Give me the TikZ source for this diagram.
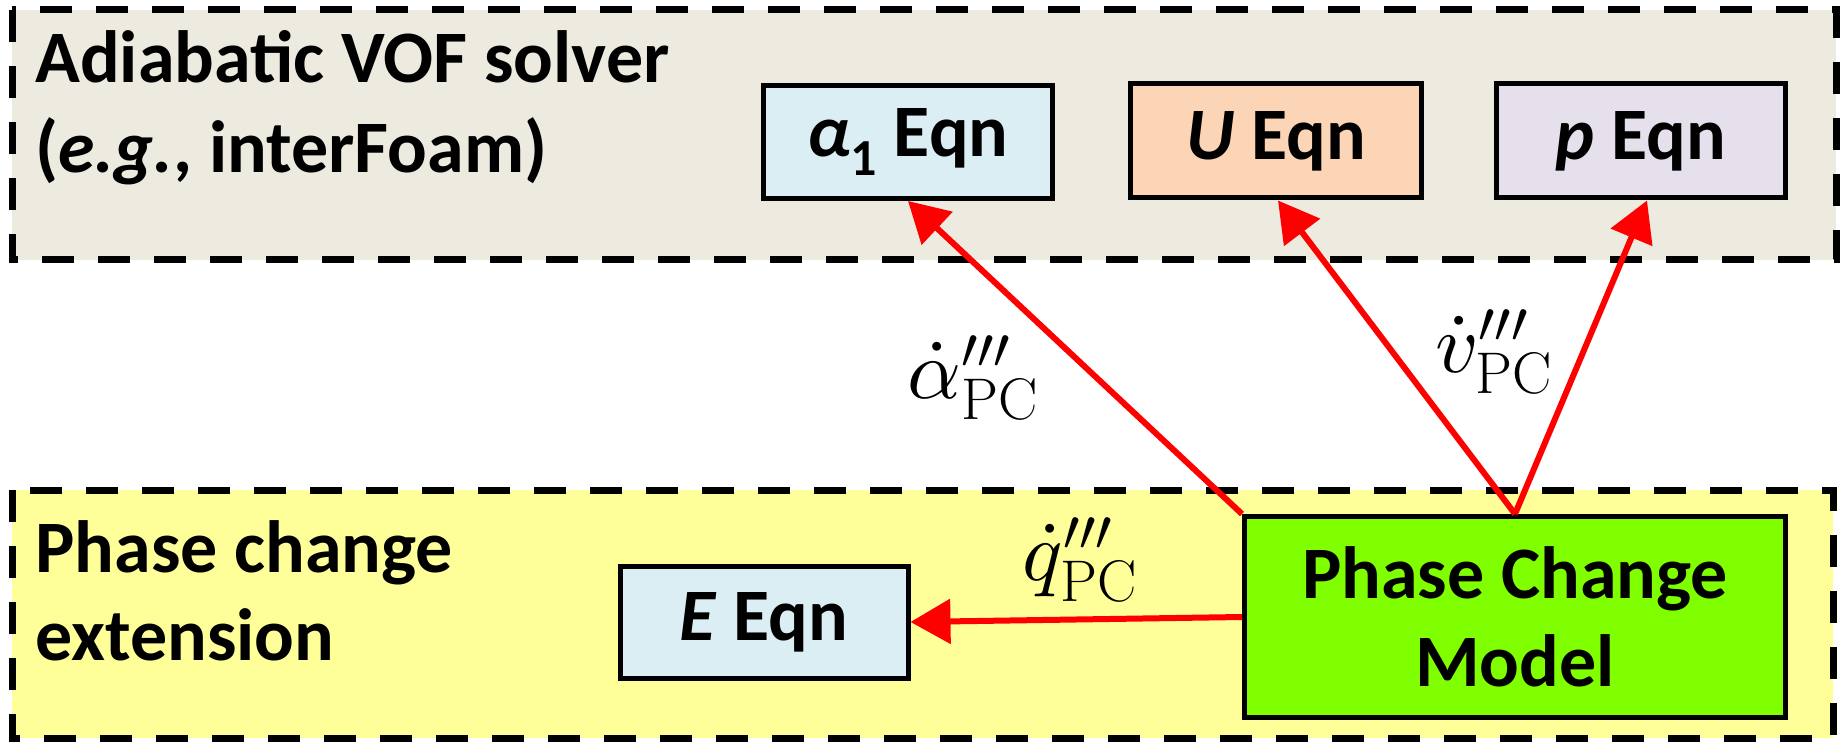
\documentclass[tikz,border=0pt]{standalone}
\usepackage{fontspec}
\newfontfamily\calib{Carlito}
\DeclareFontShape{OML}{cmm}{m}{it}{<->cmmi10}{\skewchar\font'177}
\DeclareFontShape{OMS}{cmsy}{m}{n}{<->cmsy10}{\skewchar\font'60}
\DeclareFontShape{OT1}{cmr}{m}{n}{<->cmr10}{}
\usetikzlibrary{arrows.meta}
\definecolor{topbg}{HTML}{EDEBE0}
\definecolor{botbg}{HTML}{FFFF99}
\definecolor{bluebox}{HTML}{DAEEF3}
\definecolor{orangebox}{HTML}{FBD5B5}
\definecolor{purplebox}{HTML}{E5E0EC}
\definecolor{greenbox}{HTML}{80FF00}
\definecolor{arrowred}{HTML}{FF0000}
\begin{document}
\begin{tikzpicture}[x=0.5pt,y=-0.5pt,
  region/.style={draw=black, line width=3.5pt, dash pattern=on 16pt off 12pt},
  eqn/.style={draw=black, line width=2.5pt, inner sep=0pt, align=center,
    font=\calib\bfseries\fontsize{37}{44}\selectfont},
  heading/.style={anchor=base west, inner sep=0pt,
    font=\calib\bfseries\fontsize{37}{45}\selectfont},
  flow/.style={draw=arrowred, line width=3pt, -{Triangle[length=20pt,width=22pt]}},
  rate/.style={inner sep=0pt, font=\fontsize{42}{50}\selectfont}]
\useasboundingbox (0,0) rectangle (1843,743);
\fill[white] (0,0) rectangle (1843,743);
% regions
\filldraw[region, fill=topbg] (12,10) rectangle (1836,260);
\filldraw[region, fill=botbg] (12,490) rectangle (1833,738);
% headings
\node[heading] (h1) at (35,83) {Adiabatic VOF solver};
\node[heading] (h2) at (35,173) {(\textit{e.g.}, interFoam)};
\node[heading] (h3) at (35,572) {Phase change};
\node[heading] (h4) at (35,660) {extension};
% equation boxes
\node[eqn, fill=bluebox, minimum width=144.5pt, minimum height=56.5pt] (alpha) at (908,142)
  {\textit{α}\raisebox{-0.25em}{\fontsize{26}{30}\selectfont 1} Eqn};
\node[eqn, fill=orangebox, minimum width=145.5pt, minimum height=57pt] (U) at (1276,141)
  {\textit{U} Eqn};
\node[eqn, fill=purplebox, minimum width=144.5pt, minimum height=57pt] (p) at (1641,141)
  {\textit{p} Eqn};
\node[eqn, fill=bluebox, minimum width=144pt, minimum height=56pt] (E) at (764,622)
  {\textit{E} Eqn};
\node[eqn, fill=greenbox, minimum width=270.5pt, minimum height=100.5pt] (pcm) at (1515,617)
  {Phase Change\\Model};
% connectors
\draw[flow] (pcm.north west) -- (alpha.south);
\draw[flow] (pcm.north) -- ([xshift=1pt]U.south);
\draw[flow] (pcm.north) -- ([xshift=3pt]p.south);
\draw[flow] (pcm.west) -- (E.east);
% labels
\node[rate] (la) at (973,378) {$\dot{\alpha}'''_{\mathrm{PC}}$};
\node[rate] (lv) at (1494,352) {$\dot{v}'''_{\mathrm{PC}}$};
\node[rate] (lq) at (1080,560) {$\dot{q}'''_{\mathrm{PC}}$};
\end{tikzpicture}
\end{document}
